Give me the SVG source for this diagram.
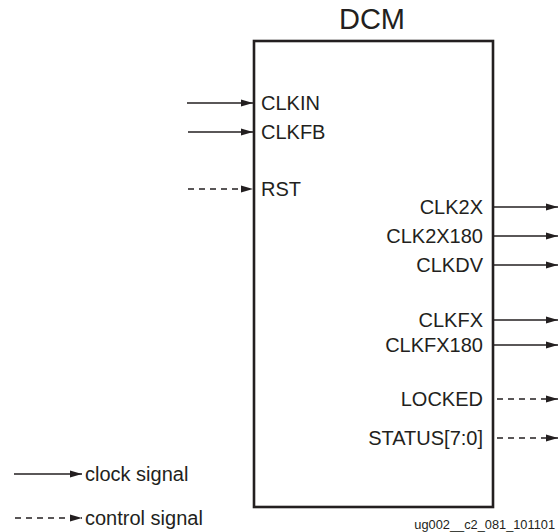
<svg xmlns="http://www.w3.org/2000/svg" width="559" height="532" viewBox="0 0 559 532">
<style>
text{font-family:"Liberation Sans",Arial,sans-serif;fill:#231f20}
.lbl{font-size:20px}
.r{text-anchor:end}
.sig{stroke:#231f20;stroke-width:1.4;fill:none}
.dash{stroke-dasharray:6 5}
</style>
<defs>
<marker id="ah" viewBox="0 0 12 8" refX="12" refY="4" markerWidth="12" markerHeight="8" markerUnits="userSpaceOnUse" orient="auto">
<path d="M0,0.5 L12,4 L0,7.5 Z" fill="#231f20"/>
</marker>
</defs>
<g id="dcm">
<text x="372" y="29" font-size="29" text-anchor="middle">DCM</text>
<rect x="254" y="41" width="239" height="466" fill="none" stroke="#231f20" stroke-width="2.6"/>
<text class="lbl" x="261" y="110">CLKIN</text>
<text class="lbl" x="261" y="139">CLKFB</text>
<text class="lbl" x="261" y="196">RST</text>
<text class="lbl r" x="483" y="214">CLK2X</text>
<text class="lbl r" x="483" y="243">CLK2X180</text>
<text class="lbl r" x="483" y="272">CLKDV</text>
<text class="lbl r" x="483" y="327">CLKFX</text>
<text class="lbl r" x="483" y="352">CLKFX180</text>
<text class="lbl r" x="483" y="406">LOCKED</text>
<text class="lbl r" x="483" y="445">STATUS[7:0]</text>
</g>
<g id="connectors">
<line class="sig" x1="187" y1="103" x2="253" y2="103" marker-end="url(#ah)"/>
<line class="sig" x1="188" y1="132" x2="253" y2="132" marker-end="url(#ah)"/>
<line class="sig dash" x1="188" y1="189" x2="253" y2="189" marker-end="url(#ah)"/>
<line class="sig" x1="494" y1="207" x2="558" y2="207" marker-end="url(#ah)"/>
<line class="sig" x1="494" y1="236" x2="558" y2="236" marker-end="url(#ah)"/>
<line class="sig" x1="494" y1="265" x2="558" y2="265" marker-end="url(#ah)"/>
<line class="sig" x1="494" y1="320" x2="558" y2="320" marker-end="url(#ah)"/>
<line class="sig" x1="494" y1="345" x2="558" y2="345" marker-end="url(#ah)"/>
<line class="sig dash" x1="497" y1="399" x2="558" y2="399" marker-end="url(#ah)"/>
<line class="sig dash" x1="497" y1="438" x2="558" y2="438" marker-end="url(#ah)"/>
</g>
<g id="legend">
<line class="sig" x1="14" y1="474" x2="82" y2="474" marker-end="url(#ah)"/>
<text class="lbl" x="85" y="481">clock signal</text>
<line class="sig dash" x1="15" y1="518" x2="82" y2="518" marker-end="url(#ah)"/>
<text class="lbl" x="85" y="525">control signal</text>
</g>
<text x="555" y="529" font-size="12.8" text-anchor="end">ug002__c2_081_101101</text>
</svg>
